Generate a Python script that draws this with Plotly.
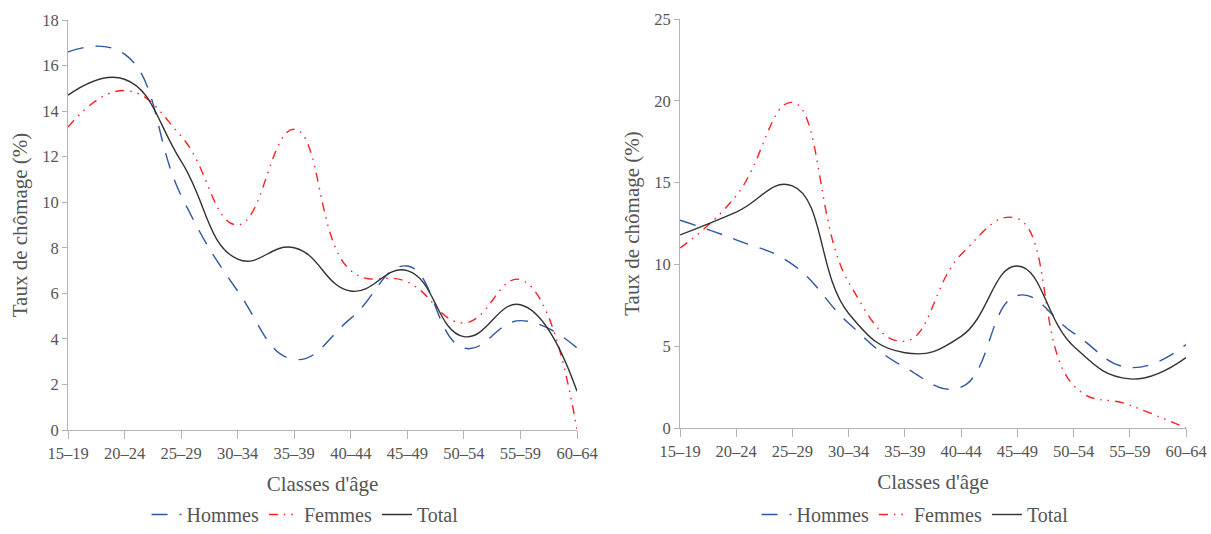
import plotly.graph_objects as go

categories = ["15–19", "20–24", "25–29", "30–34", "35–39", "40–44", "45–49", "50–54", "55–59", "60–64"]

# Left chart
hommes_1 = [16.6, 16.5, 10.3, 6.1, 3.1, 4.9, 7.2, 3.6, 4.8, 3.6]
femmes_1 = [13.3, 14.9, 12.9, 9.0, 13.2, 7.0, 6.5, 4.7, 6.6, 0.0]
total_1 = [14.7, 15.4, 11.8, 7.5, 8.0, 6.1, 7.0, 4.1, 5.5, 1.7]

# Right chart
hommes_2 = [12.7, 11.5, 10.0, 6.4, 3.7, 2.5, 8.1, 5.8, 3.7, 5.1]
femmes_2 = [11.0, 14.2, 19.9, 8.9, 5.3, 10.6, 12.8, 2.6, 1.4, 0.0]
total_2 = [11.8, 13.2, 14.8, 7.0, 4.6, 5.6, 9.9, 5.0, 3.0, 4.3]

FONT = '"Liberation Serif", "Times New Roman", serif'
TXT = "#555555"
AX = "#b3b3b3"

styles = {
    "Hommes": dict(color="#2f55a4", dash="16px,12px"),
    "Femmes": dict(color="#ff2020", dash="9px,6px,1.5px,6px,1.5px,6px"),
    "Total": dict(color="#333333", dash="solid"),
}

fig = go.Figure()

def add_series(name, values, xa, ya, legend):
    st = styles[name]
    fig.add_trace(go.Scatter(
        x=categories, y=values, name=name, mode="lines",
        line=dict(color=st["color"], dash=st["dash"], width=1.4, shape="spline", smoothing=1.3),
        xaxis=xa, yaxis=ya, legend=legend,
    ))

for n, v in [("Hommes", hommes_1), ("Femmes", femmes_1), ("Total", total_1)]:
    add_series(n, v, "x", "y", "legend")
for n, v in [("Hommes", hommes_2), ("Femmes", femmes_2), ("Total", total_2)]:
    add_series(n, v, "x2", "y2", "legend2")

xcommon = dict(
    type="category", range=[0, 9], showline=True, linecolor=AX, linewidth=1,
    ticks="outside", ticklen=8, tickcolor=AX, showgrid=False, zeroline=False,
    automargin=False,
    tickfont=dict(family=FONT, size=16.5, color=TXT),
    title=dict(text="Classes d'âge", font=dict(family=FONT, size=21, color=TXT), standoff=14),
)
ycommon = dict(
    showline=True, linecolor=AX, linewidth=1, ticks="outside", ticklen=5, tickcolor=AX,
    showgrid=False, zeroline=False, automargin=False,
    tickfont=dict(family=FONT, size=16.5, color=TXT),
    title=dict(text="Taux de chômage (%)", font=dict(family=FONT, size=21, color=TXT), standoff=8),
)

W, H = 1211, 534

fig.update_layout(
    width=W, height=H,
    margin=dict(l=0, r=0, t=0, b=0),
    paper_bgcolor="white", plot_bgcolor="white",
    xaxis=dict(xcommon, domain=[68 / W, 577 / W], anchor="y"),
    yaxis=dict(ycommon, domain=[1 - 430 / H, 1 - 20 / H], range=[0, 18], dtick=2, anchor="x"),
    xaxis2=dict(xcommon, domain=[680 / W, 1186 / W], anchor="y2"),
    yaxis2=dict(ycommon, domain=[1 - 428 / H, 1 - 19 / H], range=[0, 25], dtick=5, anchor="x2"),
    legend=dict(orientation="h", x=305 / W, xanchor="center", y=0, yanchor="bottom",
                font=dict(family=FONT, size=20, color=TXT), itemwidth=30),
    legend2=dict(orientation="h", x=915 / W, xanchor="center", y=0, yanchor="bottom",
                 font=dict(family=FONT, size=20, color=TXT), itemwidth=30),
)

fig.write_html(
    "out.html",
    config={"displayModeBar": False},
    post_script="document.documentElement.style.margin='0';document.body.style.margin='0';"
                "document.body.style.overflow='hidden';",
)
